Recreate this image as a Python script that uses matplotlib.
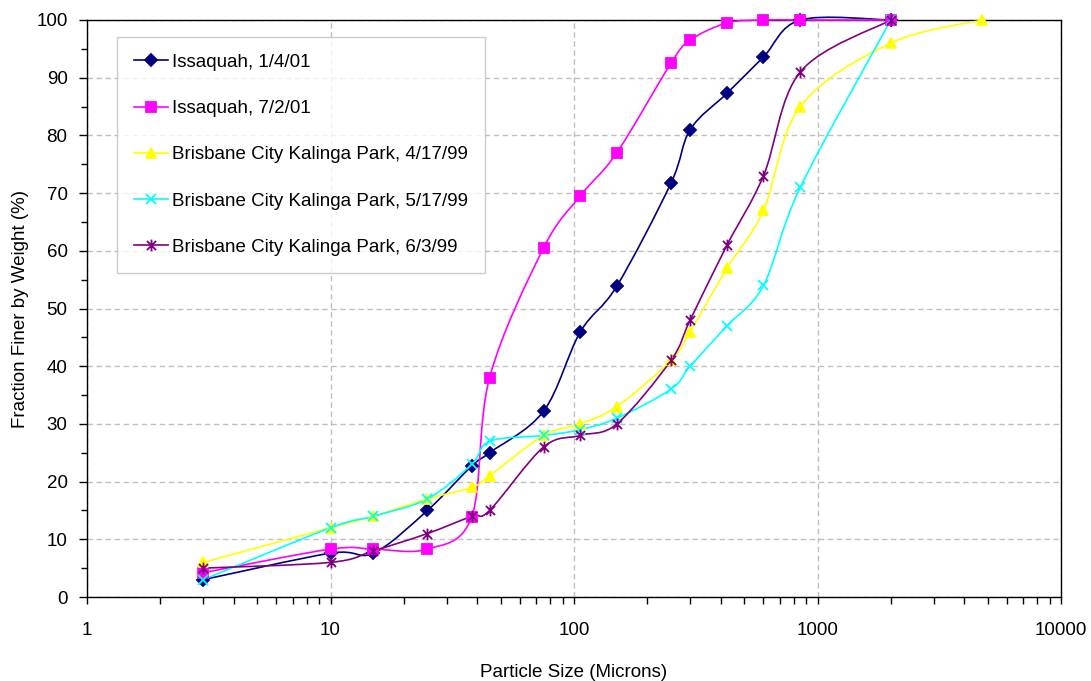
import numpy as np
import matplotlib
matplotlib.use("Agg")
import matplotlib.pyplot as plt
from matplotlib.path import Path
from matplotlib.patches import PathPatch
from matplotlib.lines import Line2D
from matplotlib.ticker import FixedLocator, NullFormatter

plt.rcParams['font.family'] = ['Liberation Sans', 'DejaVu Sans']

# sieve sizes (microns)
sizes = [3, 10, 15, 25, 38, 45, 75, 106, 150, 250, 300, 425, 600, 850, 2000]
sizes_b1 = sizes + [4750]

iss_jan = [3, 7.6, 7.6, 15, 22.7, 25, 32.2, 45.9, 53.9, 71.7, 81, 87.3, 93.6, 100, 100]
iss_jul = [4.2, 8.3, 8.3, 8.3, 13.9, 38, 60.5, 69.5, 77, 92.5, 96.5, 99.5, 100, 100, 100]
bris_apr = [6, 12, 14, 17, 19, 21, 28, 30, 33, 41, 46, 57, 67, 85, 96, 100]
bris_may = [3, 12, 14, 17, 23, 27, 28, 29, 31, 36, 40, 47, 54, 71, 100]
bris_jun = [5, 6, 8, 11, 14, 15, 26, 28, 30, 41, 48, 61, 73, 91, 100]

labels = ["Issaquah, 1/4/01", "Issaquah, 7/2/01",
          "Brisbane City Kalinga Park, 4/17/99",
          "Brisbane City Kalinga Park, 5/17/99",
          "Brisbane City Kalinga Park, 6/3/99"]

# asterisk marker like Excel's star
star = Path([(-1, -1), (1, 1), (-1, 1), (1, -1), (0, -1.3), (0, 1.3)],
            [Path.MOVETO, Path.LINETO, Path.MOVETO, Path.LINETO, Path.MOVETO, Path.LINETO])

series = [
    (sizes, iss_jan, '#000080', 'D', 6, labels[0]),
    (sizes, iss_jul, '#FF00FF', 's', 6.5, labels[1]),
    (sizes_b1, bris_apr, '#FFFF00', '^', 7.5, labels[2]),
    (sizes, bris_may, '#00FFFF', 'x', 7, labels[3]),
    (sizes, bris_jun, '#800080', star, 8.5, labels[4]),
]


def smooth_path(xs, ys):
    # catmull-rom style bezier in (log x, y) space, like excel smoothed lines
    pts = np.column_stack([np.log10(xs), ys]).astype(float)
    n = len(pts)
    verts = [pts[0]]
    codes = [Path.MOVETO]
    for i in range(n - 1):
        p0 = pts[i - 1] if i > 0 else pts[i]
        p1 = pts[i]
        p2 = pts[i + 1]
        p3 = pts[i + 2] if i + 2 < n else pts[i + 1]
        verts += [p1 + (p2 - p0) / 6, p2 - (p3 - p1) / 6, p2]
        codes += [Path.CURVE4] * 3
    verts = np.array(verts)
    verts[:, 0] = 10 ** verts[:, 0]
    return Path(verts, codes)


fig = plt.figure(figsize=(10.91, 6.81), dpi=100)
ax = fig.add_axes([87 / 1091, 84 / 681, 974 / 1091, 577 / 681])
ax.set_xscale('log')
ax.set_xlim(1, 10000)
ax.set_ylim(0, 100)

handles = []
for xs, ys, col, mk, ms, lab in series:
    ax.add_patch(PathPatch(smooth_path(xs, ys), facecolor='none', edgecolor=col,
                           lw=1.2, clip_on=False, zorder=3))
    ax.plot(xs, ys, ls='none', marker=mk, ms=ms, color=col, mec=col,
            mew=1.3, clip_on=False, zorder=4)
    handles.append(Line2D([], [], color=col, lw=1.2, marker=mk, ms=ms, mec=col, mew=1.3))

ax.yaxis.set_major_locator(FixedLocator(np.arange(0, 101, 10)))
ax.yaxis.set_minor_locator(FixedLocator(np.arange(5, 100, 10)))
ax.xaxis.set_major_locator(FixedLocator([1, 10, 100, 1000, 10000]))
ax.xaxis.set_minor_locator(FixedLocator([m * 10 ** d for d in range(4) for m in range(2, 10)]))
ax.xaxis.set_minor_formatter(NullFormatter())
ax.set_xticklabels(['1', '10', '100', '1000', '10000'])

ax.tick_params(axis='both', which='both', direction='out', width=1, labelsize=13.5)
ax.tick_params(axis='y', which='major', length=6, pad=8)
ax.tick_params(axis='y', which='minor', length=4)
ax.tick_params(axis='x', which='both', length=5, pad=13)

ax.grid(True, which='major', color='#c0c0c0', ls=(0, (4, 2.5)), lw=1)
ax.set_axisbelow(True)
for s in ax.spines.values():
    s.set_color('black')
    s.set_linewidth(1)

ax.set_xlabel('Particle Size (Microns)', fontsize=13.5, labelpad=18)
ax.set_ylabel('Fraction Finer by Weight (%)', fontsize=13.5, labelpad=5)

leg = ax.legend(handles, labels, loc='upper left', bbox_to_anchor=(30 / 974, 1 - 17 / 577),
                fontsize=13.5, frameon=True, fancybox=False, edgecolor='#c0c0c0',
                handlelength=1.8, handletextpad=0.25, labelspacing=1.55,
                borderpad=0.9, borderaxespad=0)
leg.get_frame().set_linewidth(1)

fig.savefig('out.png', dpi=100)
